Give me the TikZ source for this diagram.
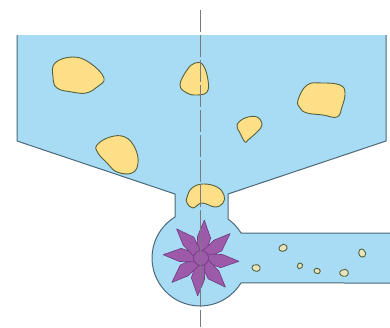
\documentclass[tikz,border=0pt]{standalone}
\definecolor{waterc}{HTML}{A8DCF4}
\definecolor{wallc}{HTML}{4B6878}
\definecolor{lumpc}{HTML}{FCDF86}
\definecolor{lumpedge}{HTML}{55603F}
\definecolor{gritc}{HTML}{E8E4BC}
\definecolor{vanec}{HTML}{9C5AA8}
\definecolor{vaneedge}{HTML}{6E3A80}
\definecolor{axisc}{HTML}{7A7A7A}
\begin{document}
\begin{tikzpicture}[x=1pt,y=-1pt,
  wall/.style={draw=wallc, line width=1pt, line join=round},
  lump/.style={fill=lumpc, draw=lumpedge, line width=0.9pt},
  grit/.style={fill=gritc, draw=lumpedge, line width=0.9pt},
  vane/.style={fill=vanec, draw=vaneedge, line width=0.6pt, line join=round},
  axisline/.style={draw=axisc, line width=0.8pt, dash pattern=on 22pt off 3pt}]
\useasboundingbox (0,0) rectangle (390,327);

% hopper, throat, pump casing and outlet pipe (circle centre (200,258), r = 48)
\fill[waterc] (17,35) -- (17,141) -- (175,194) -- (175,217)
  arc[start angle=238.6, end angle=31.4, radius=48] -- (391,283) -- (391,233)
  -- (241,233) arc[start angle=-31.4, end angle=-54.3, radius=48]
  -- (228,194) -- (386,141) -- (386,35) -- cycle;
\draw[wall] (17,35) -- (17,141) -- (175,194) -- (175,217)
  arc[start angle=238.6, end angle=31.4, radius=48] -- (391,283);
\draw[wall] (391,233) -- (241,233) arc[start angle=-31.4, end angle=-54.3, radius=48]
  -- (228,194) -- (386,141) -- (386,35);

% solids in the hopper
\draw[lump] plot[smooth cycle, tension=0.7] coordinates
  {(55,63) (73,57) (90,63) (104,78) (97,87) (86,93) (72,92) (57,88) (53,77)};
\draw[lump] plot[smooth cycle, tension=0.7] coordinates
  {(97,145) (110,137) (125,137) (135,148) (138,163) (132,173) (117,172) (107,163) (98,153)};
\draw[lump] plot[smooth cycle, tension=0.7] coordinates
  {(180,85) (187,70) (195,63) (203,65) (208,80) (207,92) (197,95) (187,93)};
\draw[lump] plot[smooth cycle, tension=0.7] coordinates
  {(298,100) (307,85) (322,83) (340,85) (345,93) (342,107) (337,117) (323,115) (307,113) (300,108)};
\draw[lump] plot[smooth cycle, tension=0.7] coordinates
  {(237,125) (245,118) (257,117) (262,125) (257,132) (248,140) (245,142) (240,133)};
\draw[lump] plot[smooth cycle, tension=0.7] coordinates
  {(187,197) (192,188) (203,184) (217,187) (224,195) (223,203) (215,207) (202,203) (193,208) (187,203)};

% fine particles in the outlet pipe
\foreach \px/\py/\s/\r in {256/268/1/0, 283/248/1/30, 300/266/0.75/70, 317/271/0.8/-20, 344/273/1.05/10, 362/253/1/-60}
  \draw[grit, shift={(\px,\py)}, rotate=\r, scale=\s] plot[smooth cycle, tension=0.8] coordinates
    {(-4,0) (-2,-3) (2,-3.2) (4,-1) (3,2.5) (-1,3)};

% impeller
\foreach \a in {-85,-40,5,50,95,140,185,230}
  \filldraw[vane, shift={(201,258)}] (\a-34:8) -- (\a-14:22) -- (\a:38) -- (\a+21:22) -- (\a+34:8) -- cycle;
\filldraw[vane] (201,258) circle[radius=7.5];

% centre line
\coordinate (axtop) at (200,10);
\coordinate (axbot) at (200,327);
\draw[axisline] (axtop) -- (axbot);
\end{tikzpicture}
\end{document}
